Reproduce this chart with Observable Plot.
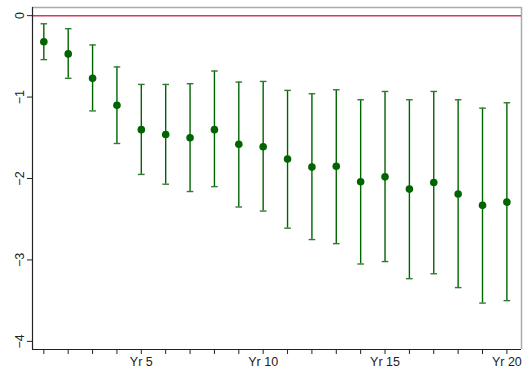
<!DOCTYPE html>
<html>
<head>
<meta charset="utf-8">
<script src="https://cdn.jsdelivr.net/npm/d3@7"></script>
<script src="https://cdn.jsdelivr.net/npm/@observablehq/plot@0.6"></script>
<style>
  html, body { margin: 0; padding: 0; background: #fff; }
  #chart svg { display: block; }
</style>
</head>
<body>
<div id="chart"></div>
<script>
const years = [1,2,3,4,5,6,7,8,9,10,11,12,13,14,15,16,17,18,19,20];
const estimate = [-0.32,-0.47,-0.77,-1.10,-1.40,-1.46,-1.50,-1.40,-1.58,-1.61,-1.76,-1.86,-1.85,-2.04,-1.98,-2.13,-2.05,-2.19,-2.33,-2.29];
const upper = [-0.10,-0.16,-0.36,-0.63,-0.845,-0.845,-0.836,-0.68,-0.816,-0.808,-0.918,-0.959,-0.91,-1.033,-0.931,-1.033,-0.931,-1.033,-1.136,-1.07];
const lower = [-0.54,-0.77,-1.17,-1.57,-1.95,-2.07,-2.16,-2.10,-2.35,-2.40,-2.61,-2.75,-2.80,-3.05,-3.02,-3.23,-3.17,-3.34,-3.53,-3.50];
const yTicks = [0,-1,-2,-3,-4];
const xDomain = [0.535, 20.6];
const yDomain = [-4.1, 0.1];
const refLine = [0];

const data = years.map((yr, i) => ({yr, est: estimate[i], lo: lower[i], hi: upper[i]}));

const green = "#006400";
const capSymbol = {
  draw(context, size) {
    const w = Math.sqrt(size / Math.PI);
    context.moveTo(-w, 0);
    context.lineTo(w, 0);
  }
};

const chart = Plot.plot({
  width: 526,
  height: 370,
  marginLeft: 32,
  marginRight: 5,
  marginTop: 7,
  marginBottom: 21,
  style: {fontFamily: "Liberation Sans, Arial, sans-serif", fontSize: "12.5px", color: "#222", background: "#fff"},
  x: {domain: xDomain},
  y: {domain: yDomain},
  marks: [
    Plot.ruleY([yDomain[1]], {stroke: "#aaa", strokeWidth: 1.5}),
    Plot.ruleX([xDomain[1]], {stroke: "#aaa", strokeWidth: 1.5}),
    Plot.ruleY(refLine, {stroke: "#cc3d5e", strokeWidth: 1.5}),
    Plot.ruleX(data, {x: "yr", y1: "lo", y2: "hi", stroke: green, strokeWidth: 1.4}),
    Plot.dot(data, {x: "yr", y: "lo", symbol: capSymbol, r: 3.3, stroke: "#2e7d2e", strokeWidth: 1.4, fill: "none"}),
    Plot.dot(data, {x: "yr", y: "hi", symbol: capSymbol, r: 3.3, stroke: "#2e7d2e", strokeWidth: 1.4, fill: "none"}),
    Plot.dot(data, {x: "yr", y: "est", r: 3.8, fill: green, stroke: "none"}),
    Plot.ruleX([xDomain[0]], {stroke: "#222", strokeWidth: 1.2}),
    Plot.ruleY([yDomain[0]], {stroke: "#222", strokeWidth: 1.2}),
    Plot.axisY(yTicks, {tickSize: 5, tickRotate: -90, tickPadding: 4, label: null, stroke: "#222", tickFormat: d3.format("d")}),
    Plot.axisX(years, {tickSize: 5, tickPadding: 3, label: null, stroke: "#222", tickFormat: d => d % 5 === 0 ? `Yr ${d}` : ""})
  ]
});
document.getElementById("chart").appendChild(chart);
</script>
</body>
</html>
